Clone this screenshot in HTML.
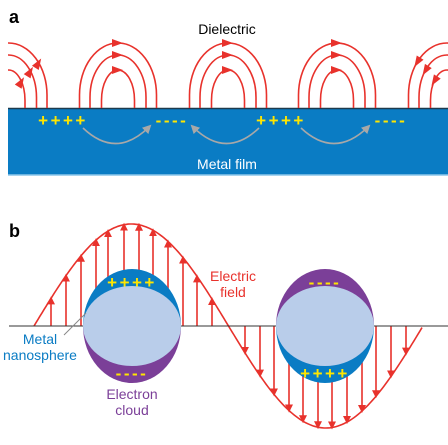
<!DOCTYPE html>
<html><head><meta charset="utf-8"><style>
html,body{margin:0;padding:0;background:#fff;}
svg{display:block;font-family:"Liberation Sans",sans-serif;}
</style></head><body>
<svg id="fig" width="448" height="445" viewBox="0 0 448 445">
<defs>
<marker id="ah" markerWidth="8" markerHeight="8" refX="6" refY="4" orient="auto" markerUnits="userSpaceOnUse"><path d="M0,0 L8,4 L0,8 Z" fill="#e8322c"/></marker>
<marker id="ag" markerWidth="9" markerHeight="9" refX="7" refY="4.5" orient="auto" markerUnits="userSpaceOnUse"><path d="M0,0 L9,4.5 L0,9 Z" fill="#a8a8a8"/></marker>
<clipPath id="clipA"><rect x="8" y="0" width="440" height="108"/></clipPath>
</defs>
<text x="9" y="23" font-size="18" font-weight="bold">a</text>
<text x="227" y="34" font-size="14" text-anchor="middle">Dielectric</text>
<rect x="8" y="108" width="440" height="67" fill="#0a7cc4"/>
<line x1="8" y1="108.5" x2="448" y2="108.5" stroke="#1d3a4e" stroke-width="1.5"/>
<line x1="8" y1="175" x2="448" y2="175" stroke="#8cc6ea" stroke-width="1.5"/>
<text x="227" y="169" font-size="14" fill="#fff" text-anchor="middle">Metal film</text>
<g id="arcs" clip-path="url(#clipA)"></g>
<g id="charges"></g>
<g id="garrows"></g>

<text x="9" y="237" font-size="18" font-weight="bold">b</text>
<g id="waveG"></g>
<line x1="9" y1="326" x2="448" y2="326" stroke="#333" stroke-width="1"/>
<g id="spheres"></g>
<text x="233" y="281" font-size="14" fill="#e8322c" text-anchor="middle"><tspan x="233">Electric</tspan><tspan x="233" dy="16">field</tspan></text>
<text x="40" y="344" font-size="14" fill="#0a7cc4" text-anchor="middle"><tspan x="40">Metal</tspan><tspan x="40" dy="16">nanosphere</tspan></text>
<line x1="64" y1="335" x2="86" y2="313" stroke="#888" stroke-width="1"/>
<text x="132" y="399" font-size="14" fill="#7b3f98" text-anchor="middle"><tspan x="132">Electron</tspan><tspan x="132" dy="16">cloud</tspan></text>
</svg>
<script>
const NS='http://www.w3.org/2000/svg';
const groupCenters=[8.5,118,228,337,447];
const arcRadii=[38.5,28,16.5];
const arcTops=[43,55,70];
const chargeLabels=['++++','----','++++','----'];
const chargeX=[63,172,281,391];
const fieldArrowXUp=[51,66,81,96,108,124,139,153,168,183,197,212];
const fieldArrowXDown=[245,260,274,289,303,318,332,347,362,376,391,406];
const waveStart=34, wavePeriod=389, waveAmp=102, axisY=326;
const sphereX=[132,325];
const sphereTopCharge=['++++','----'];
const sphereBotCharge=['----','++++'];
function mk(tag,attrs,parent){const e=document.createElementNS(NS,tag);for(const k in attrs)e.setAttribute(k,attrs[k]);parent.appendChild(e);return e;}
const arcs=document.getElementById('arcs');
groupCenters.forEach((c,gi)=>{
  arcRadii.forEach((r,i)=>{
    const top=arcTops[i], ry=(108-top)*0.8, cy=top+ry;
    const d=`M${c-r},108 L${c-r},${cy} A${r},${ry} 0 0 1 ${c+r},${cy} L${c+r},108`;
    const p=mk('path',{d:d,fill:'none',stroke:'#e8322c','stroke-width':1.6},arcs);
    
    
    let ax,ay,ang;
    if(gi===0){ax=c+r*0.78;ay=cy-ry*0.62;ang=-58;}
    else if(gi===4){ax=c-r*0.78;ay=cy-ry*0.62;ang=122;}
    else {ax=c;ay=top;ang=0;}
    const h=mk('path',{d:'M-6,-4 L5,0 L-6,4 Z',fill:'#e8322c',transform:`translate(${ax},${ay}) rotate(${ang})`},arcs);
    
    
  });
});
const ch=document.getElementById('charges');
chargeLabels.forEach((s,i)=>{
  const t=mk('text',{x:chargeX[i],y:126,'font-size':17,'font-weight':'bold',fill:'#ffe600','text-anchor':'middle','letter-spacing':'2.5'},ch);
  t.textContent=s;
  
  
});
const ga=document.getElementById('garrows');
for(let i=0;i<3;i++){
  const a=chargeX[i]+20, b=chargeX[i+1]-22;
  const from=i===1?b:a, to=i===1?a:b;
  const p=mk('path',{d:`M${from},128 Q${(a+b)/2},${160} ${to},${126}`,fill:'none',stroke:'#a8a8a8','stroke-width':1.6,'marker-end':'url(#ag)'},ga);
  
  
}
const wg=document.getElementById('waveG');
function yAt(x){return axisY-waveAmp*Math.sin(2*Math.PI*(x-waveStart)/wavePeriod);}
let d='';for(let x=waveStart;x<=waveStart+wavePeriod;x+=2){d+=(d?'L':'M')+x+','+yAt(x).toFixed(1);}
const wp=mk('path',{d:d,fill:'none',stroke:'#e8322c','stroke-width':1.6},wg);


fieldArrowXUp.concat(fieldArrowXDown).forEach(x=>{
  const y=yAt(x);
  const l=mk('line',{x1:x,y1:axisY,x2:x,y2:y,stroke:'#e8322c','stroke-width':1.6,'marker-end':'url(#ah)'},wg);
  
  
});
const sg=document.getElementById('spheres');
sphereX.forEach((cx,i)=>{
  const topCol=i===0?'#0a7cc4':'#7b3f98', botCol=i===0?'#7b3f98':'#0a7cc4';
  const rx=49, ry=57;
  const t=mk('path',{d:`M${cx-rx},${axisY} A${rx},${ry} 0 0 1 ${cx+rx},${axisY} Z`,fill:topCol},sg);
  
  
  const b=mk('path',{d:`M${cx-rx},${axisY} A${rx},${ry} 0 0 0 ${cx+rx},${axisY} Z`,fill:botCol},sg);
  
  
  const e=mk('ellipse',{cx:cx,cy:axisY,rx:rx,ry:40,fill:'#b9cdea'},sg);
  
  
  const t1=mk('text',{x:cx,y:axisY-38,'font-size':17,'font-weight':'bold',fill:'#ffe600','text-anchor':'middle','letter-spacing':'2.5'},sg);
  t1.textContent=sphereTopCharge[i];
  
  
  const t2=mk('text',{x:cx,y:axisY+53,'font-size':17,'font-weight':'bold',fill:'#ffe600','text-anchor':'middle','letter-spacing':'2.5'},sg);
  t2.textContent=sphereBotCharge[i];
  
  
});
</script>
</body></html>
